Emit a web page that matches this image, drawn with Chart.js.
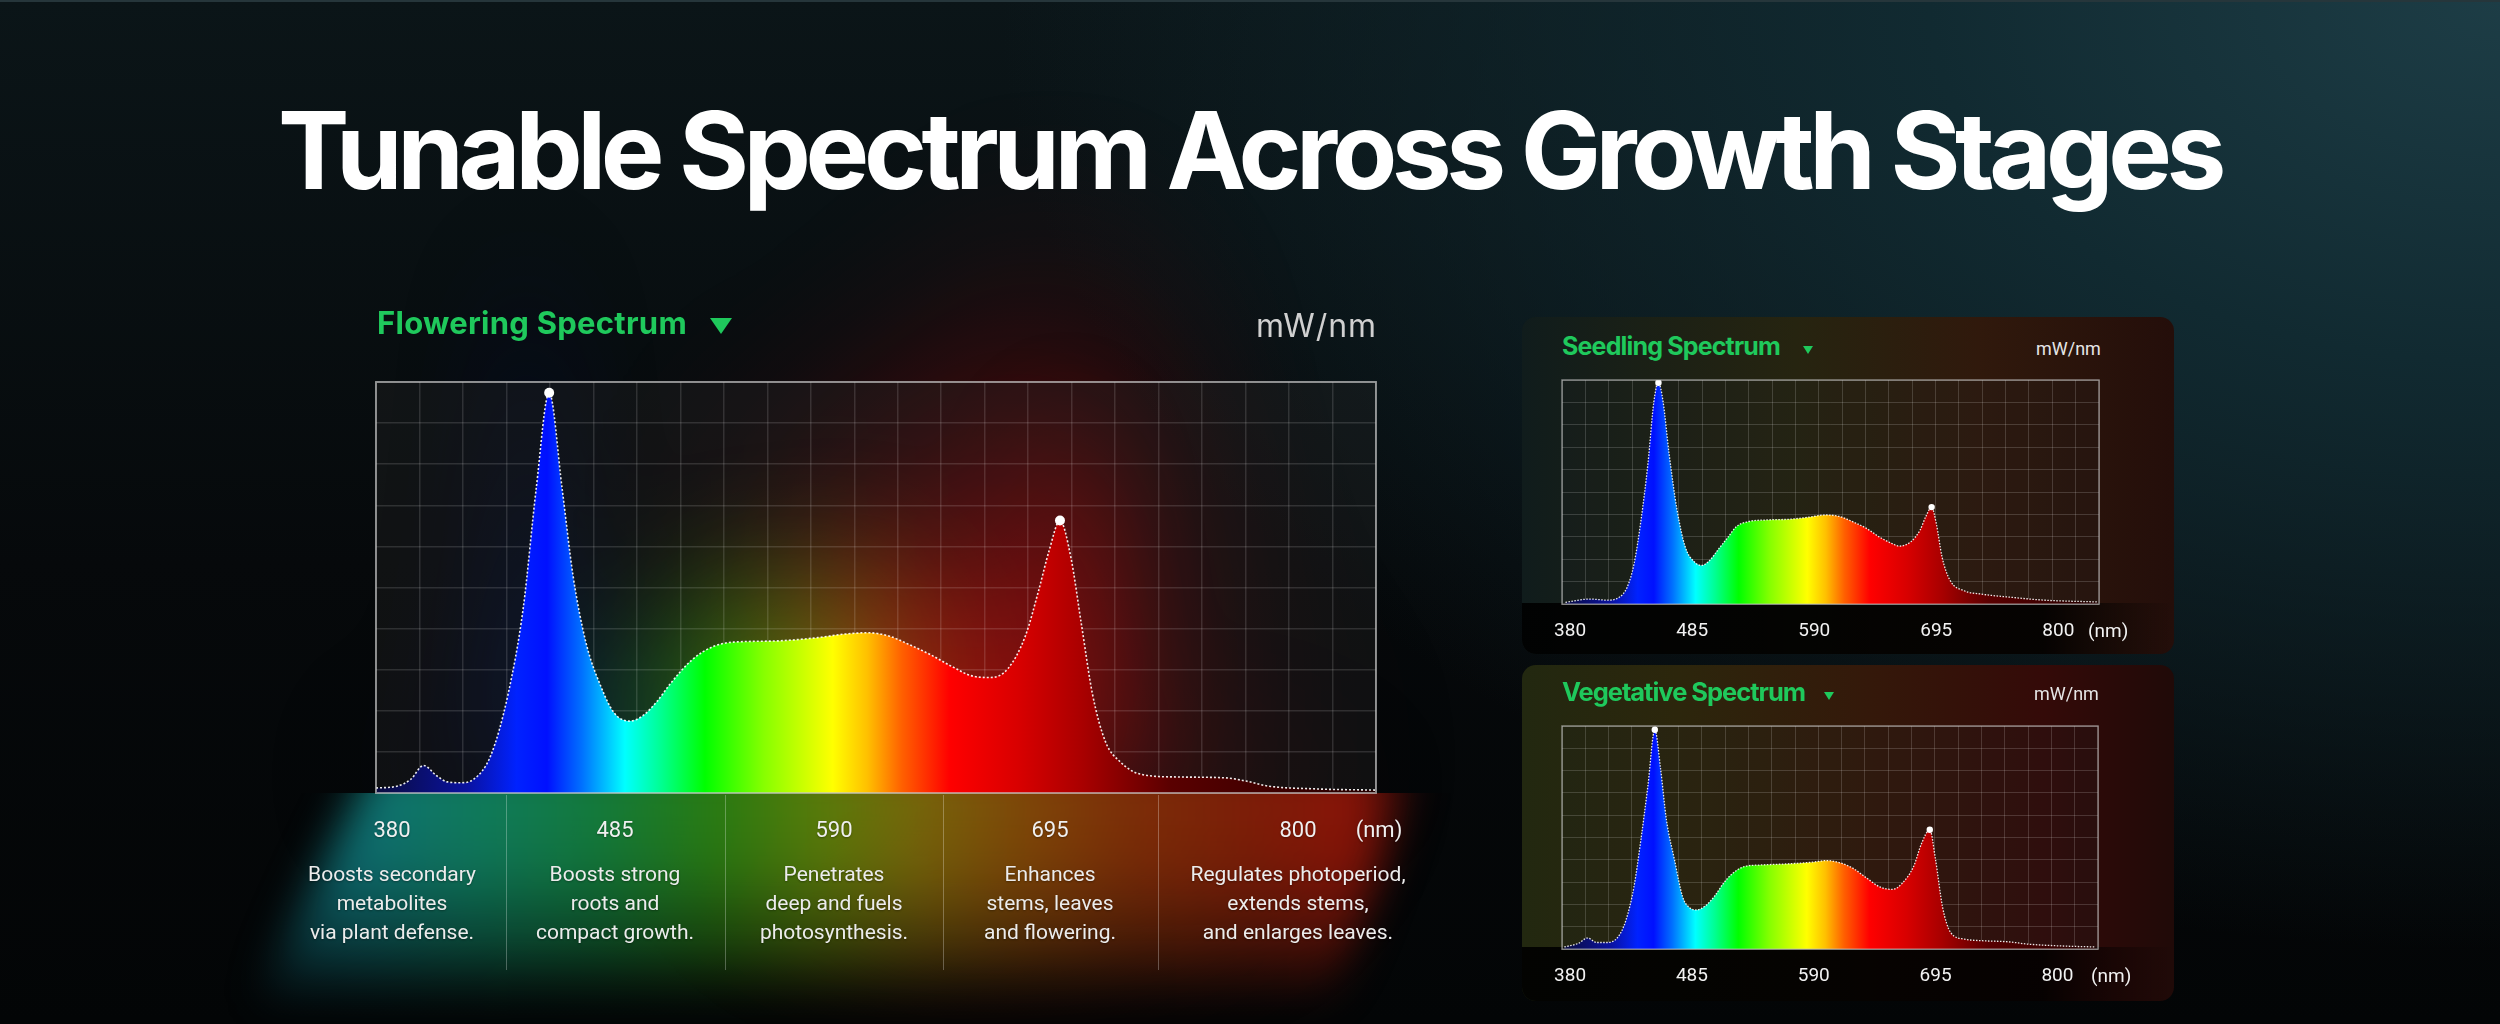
<!DOCTYPE html>
<html>
<head>
<meta charset="utf-8">
<script src="https://cdn.jsdelivr.net/npm/chart.js@4.4.1/dist/chart.umd.min.js"></script>
<style>
  html, body { margin: 0; padding: 0; }
  body {
    width: 2500px; height: 1024px; overflow: hidden; position: relative;
    font-family: Roboto, "Noto Sans", sans-serif; color: #fff;
    border-top: 2px solid #26363b; box-sizing: border-box;
    background:
      radial-gradient(ellipse 1500px 950px at 2500px 0px, #1d3d46 0%, #112a31 38%, rgba(8,16,19,0) 100%),
      linear-gradient(180deg, #0b1518 0%, #06090b 55%, #030506 100%);
  }
  .abs { position: absolute; white-space: nowrap; line-height: 1; z-index: 5; }
  .title { font-family: Inter, sans-serif; font-weight: 700; }
  .green { color: #1fc95c; font-family: Inter, sans-serif; font-weight: 700; }
  .tri { position: absolute; width: 0; height: 0; border-style: solid; border-color: #1fc95c transparent transparent transparent; z-index: 5; }
  .unit { font-family: Inter, sans-serif; font-weight: 400; color: #d0d0d0; }
  .num { font-size: 22px; color: #f0f0f0; text-align: center; width: 200px; text-shadow: 0 1px 2px rgba(0,0,0,.35); }
  .note { font-size: 21px; line-height: 29.2px; color: #ececec; text-align: center; width: 300px; white-space: normal; text-shadow: 0 1px 2px rgba(0,0,0,.35); }
  .divider { position: absolute; width: 1px; top: 793px; height: 175px; background: rgba(255,255,255,.28); z-index: 5; }
  .panel { position: absolute; border-radius: 14px; overflow: hidden; z-index: 3; }
  .band { position: absolute; left: 0; right: 0; bottom: 0;
          background: linear-gradient(90deg, rgba(0,0,0,.92) 0%, rgba(0,0,0,.88) 80%, rgba(0,0,0,0) 100%); }
  .box { position: absolute; z-index: 4; }
  .glow { position: absolute; z-index: 1; }
  #descGlowWrap { position: absolute; left: 0; top: 791px; width: 1700px; height: 233px; overflow: hidden; z-index: 2; }
  #descGlowBlur { position: absolute; left: 0; top: 0; width: 1700px; height: 233px; filter: blur(20px); }
  #descGlow {
    position: absolute; left: 250px; top: -30px; width: 1170px; height: 250px;
    background: linear-gradient(90deg, #0c5a6a 0%, #0f7476 10%, #10805e 20%, #147e3c 30%, #2a7e12 40%, #5a7e0a 49%, #76690b 57%, #7e4a08 66%, #7e3008 75%, #821e08 86%, #901408 95%, rgba(144,20,8,0) 100%);
    -webkit-mask-image: linear-gradient(180deg, #000 0%, rgba(0,0,0,.9) 40%, rgba(0,0,0,.55) 70%, rgba(0,0,0,0) 98%);
    mask-image: linear-gradient(180deg, #000 0%, rgba(0,0,0,.9) 40%, rgba(0,0,0,.55) 70%, rgba(0,0,0,0) 98%);
    clip-path: polygon(10.5% 0, 100% 0, 92% 100%, 0 100%);
  }
  #mainGlow { filter: blur(50px); opacity: .85; transform: scale(1.06, 1.3); transform-origin: 55% 100%; }
  #redGlow { filter: blur(80px); opacity: .9; transform: scale(1.4, 1.75); transform-origin: 69% 100%; }
</style>
</head>
<body>

<div class="abs title" id="title" style="left:278px;top:95px;font-size:107px;">Tunable Spectrum Across Growth Stages</div>

<div id="descGlowWrap"><div id="descGlowBlur"><div id="descGlow"></div></div></div>

<div class="glow" id="redGlow" style="left:346px;top:350px;width:1060px;height:471px;"><canvas id="flowRedCanvas"></canvas></div>
<div class="glow" id="mainGlow" style="left:346px;top:350px;width:1060px;height:471px;"><canvas id="flowGlowCanvas"></canvas></div>
<div class="box" style="left:346px;top:350px;width:1060px;height:471px;"><canvas id="flowCanvas"></canvas></div>

<div class="abs green" id="flowTitle" style="left:377px;top:305px;font-size:31px;">Flowering Spectrum</div>
<div class="tri" style="left:710px;top:316px;border-width:16px 11px 0 11px;"></div>
<div class="abs unit" id="flowUnit" style="left:1256px;top:308px;font-size:32px;">mW/nm</div>

<div id="notes"></div>

<div class="panel" style="left:1522px;top:315px;width:652px;height:337px;
  background:linear-gradient(90deg,#101c1c 0%,#1a2016 18%,#262410 42%,#30190c 70%,#240e0a 100%);">
  <div class="band" style="top:286px;"></div>
</div>
<div class="panel" style="left:1522px;top:663px;width:652px;height:336px;
  background:linear-gradient(90deg,#222810 0%,#2c260c 24%,#34190a 52%,#340a08 80%,#200a08 100%);">
  <div class="band" style="top:282px;"></div>
</div>

<div class="box" style="left:1532px;top:368px;width:597px;height:299px;"><canvas id="seedCanvas"></canvas></div>
<div class="box" style="left:1532px;top:714px;width:596px;height:298px;"><canvas id="vegCanvas"></canvas></div>

<div class="abs green" id="seedTitle" style="left:1562px;top:332px;font-size:25px;">Seedling Spectrum</div>
<div class="tri" style="left:1803px;top:344px;border-width:8px 5.5px 0 5.5px;"></div>
<div class="abs unit" style="left:2036px;top:338px;font-size:18px;color:#e6e6e6;font-family:Roboto,sans-serif;">mW/nm</div>
<div class="abs" style="left:2088px;top:619px;font-size:19px;color:#f2f2f2;">(nm)</div>

<div class="abs green" id="vegTitle" style="left:1562px;top:677px;font-size:25.5px;">Vegetative Spectrum</div>
<div class="tri" style="left:1824px;top:690px;border-width:8px 5.5px 0 5.5px;"></div>
<div class="abs unit" style="left:2034px;top:683px;font-size:18px;color:#e6e6e6;font-family:Roboto,sans-serif;">mW/nm</div>
<div class="abs" style="left:2091px;top:964px;font-size:19px;color:#f2f2f2;">(nm)</div>

<script>
// wavelength axis (nm) and the five labelled wavelengths
const xMin = 373;
const xMax = 835;
const tickLabels = [380, 485, 590, 695, 800];

// Flowering spectrum (mW/nm, relative units 0-10)
const flowerNm = [373, 383, 389, 395, 401, 406, 412, 418, 426, 434,
                  441, 447, 453, 459, 464, 470, 477, 483, 490, 496,
                  503, 509, 519, 529, 538, 558, 577, 590, 600, 610,
                  619, 629, 639, 649, 657, 665, 673, 679, 684, 689,
                  694, 699, 704, 710, 717, 726, 743, 765, 775, 785,
                  807, 835];
const flowerMw = [0.12, 0.17, 0.33, 0.67, 0.42, 0.27, 0.25, 0.33, 0.91, 2.4,
                  4.49, 7.4, 9.74, 7.4, 5.3, 3.66, 2.58, 1.95, 1.75, 1.87,
                  2.24, 2.66, 3.24, 3.57, 3.67, 3.7, 3.78, 3.87, 3.9, 3.82,
                  3.62, 3.37, 3.08, 2.84, 2.81, 3.03, 3.82, 4.9, 5.9, 6.63,
                  5.74, 4.07, 2.41, 1.25, 0.75, 0.46, 0.39, 0.37, 0.29, 0.17,
                  0.1, 0.07];
const flowerPeakNm = [453, 689];
const flowerPeakMw = [9.74, 6.63];

// Seedling spectrum
const seedNm = [376, 397, 412, 422, 429, 435, 441, 447, 452, 456,
                460, 465, 472, 479, 487, 493, 500, 508, 516, 523,
                533, 550, 569, 585, 600, 612, 623, 635, 646, 658,
                663, 673, 681, 686, 691, 695, 700, 707, 719, 734,
                761, 788, 834];
const seedMw = [0.08, 0.23, 0.18, 0.3, 0.75, 1.8, 3.76, 6.3, 9.02, 9.88,
                9.02, 6.77, 4.2, 2.56, 1.88, 1.73, 1.95, 2.48, 3.0, 3.46,
                3.68, 3.76, 3.79, 3.88, 3.98, 3.91, 3.68, 3.38, 3.0, 2.68,
                2.59, 2.78, 3.3, 3.91, 4.33, 3.6, 2.1, 1.05, 0.6, 0.45,
                0.3, 0.18, 0.1];
const seedPeakNm = [456, 691];
const seedPeakMw = [9.88, 4.33];

// Vegetative spectrum
const vegNm = [375, 387, 395, 403, 412, 421, 428, 435, 441, 447,
               453, 458, 463, 470, 477, 483, 489, 497, 505, 512,
               520, 530, 543, 566, 589, 601, 612, 624, 635, 647,
               658, 666, 676, 683, 690, 695, 701, 708, 720, 735,
               758, 774, 801, 833];
const vegMw = [0.1, 0.26, 0.5, 0.3, 0.3, 0.53, 1.28, 2.79, 4.9, 7.3,
               9.83, 8.07, 5.8, 4.0, 2.34, 1.86, 1.76, 1.96, 2.41, 2.94,
               3.39, 3.7, 3.77, 3.82, 3.9, 3.97, 3.88, 3.62, 3.21, 2.79,
               2.68, 2.94, 3.7, 4.75, 5.35, 4.0, 1.89, 0.75, 0.45, 0.38,
               0.33, 0.23, 0.15, 0.1];
const vegPeakNm = [453, 690];
const vegPeakMw = [9.83, 5.35];

// what each band does
const bandNotes = [
  ['Boosts secondary', 'metabolites', 'via plant defense.'],
  ['Boosts strong', 'roots and', 'compact growth.'],
  ['Penetrates', 'deep and fuels', 'photosynthesis.'],
  ['Enhances', 'stems, leaves', 'and flowering.'],
  ['Regulates photoperiod,', 'extends stems,', 'and enlarges leaves.']
];

// fill colours along the wavelength axis, plus the two glow layers behind the big chart
const stopNm    = [373, 415, 438, 452, 468, 488, 505, 525, 552, 584, 600, 616, 638, 670, 700, 740, 835];
const stopColor = ['#0a0c3e', '#0a12a0', '#0022ff', '#0010ff', '#0070ff', '#00ffff', '#00ff90', '#00ff00',
                   '#86ff00', '#ffff00', '#ffc000', '#ff6000', '#ff0000', '#d80000', '#a80000', '#5a0000', '#220000'];
const glowColor = ['#000008', '#000018', '#000838', '#000838', '#002040', '#004848', '#007040', '#189000',
                   '#60a000', '#b0a000', '#d07000', '#e03800', '#e01000', '#d00000', '#b00000', '#800000', '#400000'];
const redColor  = ['rgba(0,0,0,0)', 'rgba(0,0,0,0)', 'rgba(0,0,0,0)', 'rgba(0,0,0,0)', 'rgba(0,0,0,0)', 'rgba(0,0,0,0)',
                   'rgba(0,0,0,0)', 'rgba(0,0,0,0)', 'rgba(0,0,0,0)', 'rgba(0,0,0,0)', 'rgba(255,60,0,0.15)',
                   'rgba(255,40,0,0.5)', 'rgba(255,0,0,0.85)', '#ff0000', '#d80000', 'rgba(170,0,0,0.6)', 'rgba(60,0,0,0)'];

const gridColumns = 23;

const framePlugin = {
  id: 'frame',
  beforeDraw(chart, args, opts) {
    const { ctx, chartArea: a } = chart;
    ctx.save();
    ctx.fillStyle = opts.bg;
    ctx.fillRect(a.left, a.top, a.width, a.height);
    ctx.restore();
  },
  afterDatasetsDraw(chart, args, opts) {
    const { ctx, chartArea: a } = chart;
    ctx.save();
    ctx.strokeStyle = opts.color;
    ctx.lineWidth = opts.width;
    ctx.strokeRect(a.left, a.top, a.width, a.height);
    ctx.restore();
  }
};

function spectrumFill(colors) {
  return function (context) {
    const chart = context.chart;
    const a = chart.chartArea;
    if (!a) return null;
    const x = chart.scales.x;
    const g = chart.ctx.createLinearGradient(a.left, 0, a.right, 0);
    stopNm.forEach((nm, i) => {
      const t = (x.getPixelForValue(nm) - a.left) / (a.right - a.left);
      g.addColorStop(Math.min(1, Math.max(0, t)), colors[i]);
    });
    return g;
  };
}

function spectrumChart(id, nm, mw, peakNm, peakMw, s) {
  const glow = !!s.glow;
  const points = nm.map((v, i) => ({ x: v, y: mw[i] }));
  const peaks = peakNm.map((v, i) => ({ x: v, y: peakMw[i] }));
  const curve = {
    data: points, fill: 'origin', backgroundColor: spectrumFill(glow ? s.glow : stopColor),
    borderColor: glow ? 'rgba(0,0,0,0)' : 'rgba(255,255,255,0.92)',
    borderWidth: glow ? 0 : s.line, borderDash: s.dash,
    pointRadius: 0, cubicInterpolationMode: 'monotone', order: 1
  };
  const dots = {
    data: peaks, showLine: false, pointRadius: s.dot, pointBackgroundColor: '#ffffff',
    pointBorderWidth: 0, order: 0
  };
  const scales = {
    x: {
      type: 'linear', min: xMin, max: xMax, display: !glow,
      afterBuildTicks: ax => {
        ax.ticks = Array.from({ length: gridColumns + 1 }, (_, i) => ({ value: xMin + (xMax - xMin) * i / gridColumns }));
      },
      ticks: { display: false, autoSkip: false },
      grid: { color: s.grid, lineWidth: s.gridW, drawTicks: false },
      border: { display: false }
    },
    y: {
      min: 0, max: 10, display: !glow,
      ticks: { display: false, stepSize: 1 },
      grid: { color: s.grid, lineWidth: s.gridW, drawTicks: false },
      border: { display: false }
    }
  };
  if (s.labels) {
    scales.x2 = {
      type: 'linear', position: 'bottom', min: xMin, max: xMax,
      afterBuildTicks: ax => { ax.ticks = tickLabels.map(v => ({ value: v })); },
      grid: { display: false, drawTicks: false },
      border: { display: false },
      ticks: {
        color: '#f2f2f2', font: { family: 'Roboto', size: 19 }, padding: 16,
        autoSkip: false, maxRotation: 0, callback: v => String(v)
      }
    };
  }
  return new Chart(document.getElementById(id), {
    type: 'line',
    data: { datasets: glow ? [curve] : [dots, curve] },
    options: {
      responsive: true, maintainAspectRatio: false, animation: false,
      layout: { padding: s.pad },
      scales: scales,
      plugins: {
        legend: { display: false },
        tooltip: { enabled: false },
        frame: { bg: s.bg, color: s.frame, width: s.frameW }
      }
    },
    plugins: glow ? [] : [framePlugin]
  });
}

const mainPad = { left: 30, right: 30, top: 30, bottom: 30 };
const smallPad = { left: 30, right: 30, top: 10, bottom: 10 };

spectrumChart('flowRedCanvas', flowerNm, flowerMw, flowerPeakNm, flowerPeakMw, { glow: redColor, pad: mainPad });
spectrumChart('flowGlowCanvas', flowerNm, flowerMw, flowerPeakNm, flowerPeakMw, { glow: glowColor, pad: mainPad });
spectrumChart('flowCanvas', flowerNm, flowerMw, flowerPeakNm, flowerPeakMw, {
  pad: mainPad, line: 1.6, dash: [2, 2], dot: 5, grid: 'rgba(255,255,255,0.13)', gridW: 1.5,
  bg: 'rgba(38,38,38,0.34)', frame: 'rgba(200,200,200,0.65)', frameW: 2
});
spectrumChart('seedCanvas', seedNm, seedMw, seedPeakNm, seedPeakMw, {
  pad: smallPad, labels: true, line: 1.3, dash: [1.5, 1.5], dot: 3.2, grid: 'rgba(255,255,255,0.16)', gridW: 1,
  bg: 'rgba(30,30,30,0.22)', frame: 'rgba(200,200,200,0.6)', frameW: 1.5
});
spectrumChart('vegCanvas', vegNm, vegMw, vegPeakNm, vegPeakMw, {
  pad: smallPad, labels: true, line: 1.3, dash: [1.5, 1.5], dot: 3.2, grid: 'rgba(255,255,255,0.16)', gridW: 1,
  bg: 'rgba(30,30,30,0.22)', frame: 'rgba(200,200,200,0.6)', frameW: 1.5
});

// wavelength row, band notes and dividers under the main chart
const colCenters = [392, 615, 834, 1050, 1298];
const notes = document.getElementById('notes');
tickLabels.forEach((t, i) => {
  const n = document.createElement('div');
  n.className = 'abs num';
  n.style.left = (colCenters[i] - 100) + 'px';
  n.style.top = '817px';
  n.textContent = t;
  notes.appendChild(n);
  const d = document.createElement('div');
  d.className = 'abs note';
  d.style.left = (colCenters[i] - 150) + 'px';
  d.style.top = '858px';
  d.innerHTML = bandNotes[i].join('<br>');
  notes.appendChild(d);
});
const nmLabel = document.createElement('div');
nmLabel.className = 'abs num';
nmLabel.style.left = (1379 - 100) + 'px';
nmLabel.style.top = '817px';
nmLabel.textContent = '(nm)';
notes.appendChild(nmLabel);
[506, 724.5, 942.6, 1158].forEach(x => {
  const d = document.createElement('div');
  d.className = 'divider';
  d.style.left = x + 'px';
  notes.appendChild(d);
});

// match the measured text widths of the headings
function fitWidth(id, w) {
  const el = document.getElementById(id);
  el.style.letterSpacing = '0px';
  const cur = el.getBoundingClientRect().width;
  el.style.letterSpacing = ((w - cur) / el.textContent.length) + 'px';
}
fitWidth('title', 1943);
fitWidth('flowTitle', 310);
fitWidth('flowUnit', 121);
fitWidth('seedTitle', 218);
fitWidth('vegTitle', 243);
</script>
</body>
</html>
